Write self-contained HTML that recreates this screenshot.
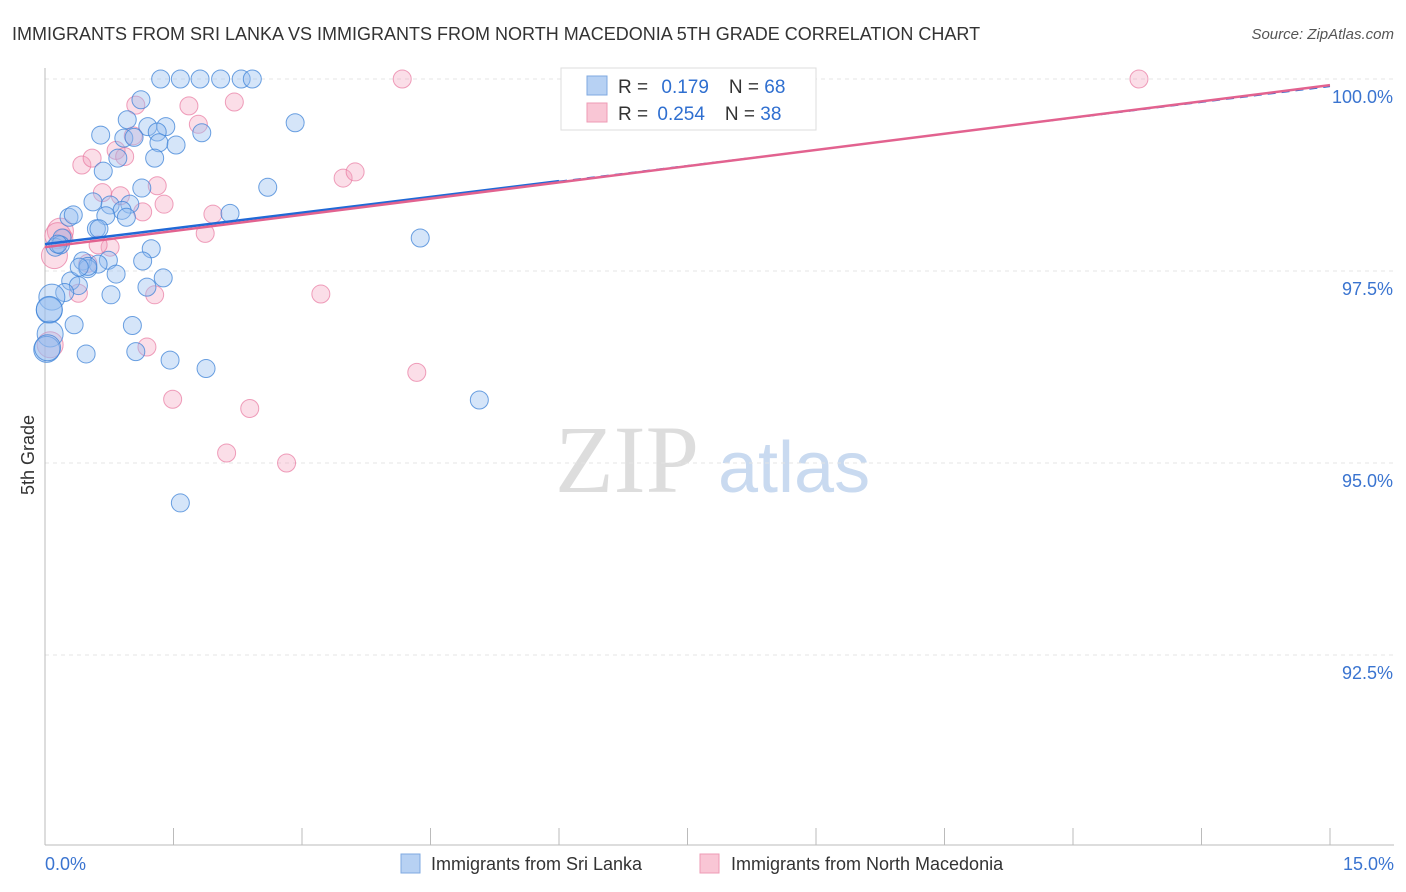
<!DOCTYPE html>
<html><head><meta charset="utf-8">
<style>
body{margin:0;background:#fff;font-family:"Liberation Sans",sans-serif;}
#wrap{position:relative;width:1406px;height:892px;overflow:hidden;}
</style></head>
<body>
<div id="wrap">
<svg id="svg" width="1406" height="892" xmlns="http://www.w3.org/2000/svg">
<text x="12" y="40" font-size="18" fill="#333">IMMIGRANTS FROM SRI LANKA VS IMMIGRANTS FROM NORTH MACEDONIA 5TH GRADE CORRELATION CHART</text>
<text x="1394" y="39" font-size="15" fill="#555" font-style="italic" text-anchor="end">Source: ZipAtlas.com</text>
<text x="34" y="455" font-size="18" fill="#333" transform="rotate(-90 34 455)" text-anchor="middle">5th Grade</text>
<text x="555" y="492" font-size="96" fill="#ddd" font-family="Liberation Serif,serif">ZIP</text>
<text x="718" y="492" font-size="72" fill="#c9daf0">atlas</text>
<g id="grid"></g><g id="pts"></g><g id="lines"></g>
<g>
<rect x="561" y="68" width="255" height="62" fill="#fff" stroke="#ddd"/>
<rect x="587" y="76" width="20" height="19" fill="#b7d1f3" stroke="#7fa9e0"/>
<rect x="587" y="103" width="20" height="19" fill="#f9c6d5" stroke="#ee9bb5"/>
<text x="618" y="93" font-size="19" fill="#333">R = <tspan fill="#2f6fd0" dx="8">0.179</tspan><tspan fill="#333" dx="20">N = </tspan><tspan fill="#2f6fd0">68</tspan></text>
<text x="618" y="120" font-size="19" fill="#333">R = <tspan fill="#2f6fd0" dx="4">0.254</tspan><tspan fill="#333" dx="20">N = </tspan><tspan fill="#2f6fd0">38</tspan></text>
</g>
<g>
<rect x="401" y="854" width="19" height="19" fill="#b7d1f3" stroke="#7fa9e0"/>
<text x="431" y="870" font-size="18" fill="#333">Immigrants from Sri Lanka</text>
<rect x="700" y="854" width="19" height="19" fill="#f9c6d5" stroke="#ee9bb5"/>
<text x="731" y="870" font-size="18" fill="#333">Immigrants from North Macedonia</text>
</g>
<text x="45" y="870" font-size="18" fill="#3a74d0">0.0%</text>
<text x="1394" y="870" font-size="18" fill="#3a74d0" text-anchor="end">15.0%</text>
</svg>
</div>
<script>
const yTicks=[100,97.5,95,92.5];
const yTickLabels=["100.0%","97.5%","95.0%","92.5%"];
const blueX=[1.35,1.58,1.81,2.05,2.29,2.42,1.12,0.96,1.20,1.41,0.65,0.92,1.31,1.04,1.33,1.53,1.83,2.92,1.28,0.85,0.68,1.13,2.60,0.56,0.76,0.99,0.90,0.71,0.95,0.28,0.33,2.16,0.60,0.20,0.63,0.12,1.24,4.38,0.74,0.44,0.62,1.14,0.50,0.83,1.38,0.30,0.39,1.19,0.23,0.77,0.08,0.05,0.34,1.02,0.06,0.02,0.48,1.06,1.46,1.88,5.07,1.58,0.50,0.18,0.03,0.05,0.15,0.40];
const blueY=[100,100,100,100,100,100,99.73,99.47,99.38,99.38,99.27,99.23,99.31,99.24,99.17,99.14,99.30,99.43,98.97,98.97,98.80,98.58,98.59,98.40,98.36,98.37,98.29,98.22,98.20,98.20,98.23,98.25,98.05,97.93,98.05,97.81,97.79,97.93,97.64,97.63,97.59,97.63,97.53,97.46,97.41,97.37,97.31,97.29,97.22,97.19,97.16,96.99,96.80,96.79,96.68,96.48,96.42,96.45,96.34,96.23,95.82,94.48,97.56,97.84,96.50,97.00,97.85,97.55];
const pinkX=[4.17,8.08,12.77,1.06,1.68,2.21,1.79,0.43,0.55,0.83,0.93,1.03,0.67,0.88,1.31,1.39,1.14,1.96,1.87,3.48,3.62,0.18,0.22,0.76,0.62,0.11,0.39,1.28,3.22,1.19,4.34,1.49,2.39,2.12,2.82,0.06,0.50,0.15];
const pinkY=[100,100,100,99.66,99.65,99.70,99.41,98.88,98.97,99.07,98.99,99.26,98.52,98.48,98.61,98.37,98.27,98.24,97.99,98.71,98.79,98.02,97.93,97.81,97.84,97.70,97.21,97.19,97.20,96.51,96.18,95.83,95.71,95.13,95.00,96.54,97.60,97.96];
const blueLine=[97.85,99.9];  // values at x=0 and x=15 (solid until 6%)
const pinkLine=[97.81,99.92];
const X=v=>45+v/15*1285;
const Y=v=>79+(100-v)*76.8;
const NS="http://www.w3.org/2000/svg";
function mk(tag,attrs,parent){const e=document.createElementNS(NS,tag);for(const k in attrs)e.setAttribute(k,attrs[k]);parent.appendChild(e);return e;}
const grid=document.getElementById('grid');
mk('line',{x1:45,y1:Y(100),x2:1394,y2:Y(100),stroke:'#ddd','stroke-dasharray':'4,4'},grid);
yTicks.forEach((t,i)=>{
 const l=mk('line',{x1:45,y1:Y(t),x2:1394,y2:Y(t),stroke:'#e4e4e4','stroke-dasharray':'4,4'},grid);
 
 
 const tx=mk('text',{x:1393,y:Y(t)+24,'font-size':18,fill:'#3a74d0','text-anchor':'end'},grid);
 tx.textContent=yTickLabels[i];
 
 
});
const ax=mk('line',{x1:45,y1:68,x2:45,y2:845,stroke:'#bbb'},grid);


const bx=mk('line',{x1:45,y1:845,x2:1394,y2:845,stroke:'#bbb'},grid);


for(let i=1;i<=10;i++){const t=mk('line',{x1:X(i*1.5),y1:828,x2:X(i*1.5),y2:845,stroke:'#bbb'},grid);
 
 }
const pts=document.getElementById('pts');
pinkX.forEach((v,i)=>{const r=(v<0.2)?13:9;
 const c=mk('circle',{cx:X(v),cy:Y(pinkY[i]),r:r,fill:'rgba(244,160,188,0.35)',stroke:'rgba(232,120,160,0.7)','stroke-width':1},pts);
 
 });
blueX.forEach((v,i)=>{const r=(v<0.1)?13:9;
 const c=mk('circle',{cx:X(v),cy:Y(blueY[i]),r:r,fill:'rgba(150,190,240,0.4)',stroke:'rgba(60,130,215,0.75)','stroke-width':1},pts);
 
 });
const lines=document.getElementById('lines');
const by=x=>blueLine[0]+(blueLine[1]-blueLine[0])*x/15;
const l1=mk('line',{x1:X(0),y1:Y(by(0)),x2:X(6),y2:Y(by(6)),stroke:'#2169d6','stroke-width':2.5},lines);


const xe=6+ (100.0-by(6))/((blueLine[1]-blueLine[0])/15);
const l2=mk('line',{x1:X(6),y1:Y(by(6)),x2:X(Math.min(15,xe)),y2:Y(by(Math.min(15,xe))),stroke:'#2169d6','stroke-width':1,'stroke-dasharray':'8,6'},lines);


const l3=mk('line',{x1:X(0),y1:Y(pinkLine[0]),x2:X(15),y2:Y(pinkLine[1]),stroke:'#e2628f','stroke-width':2.5},lines);


</script>
</body></html>
